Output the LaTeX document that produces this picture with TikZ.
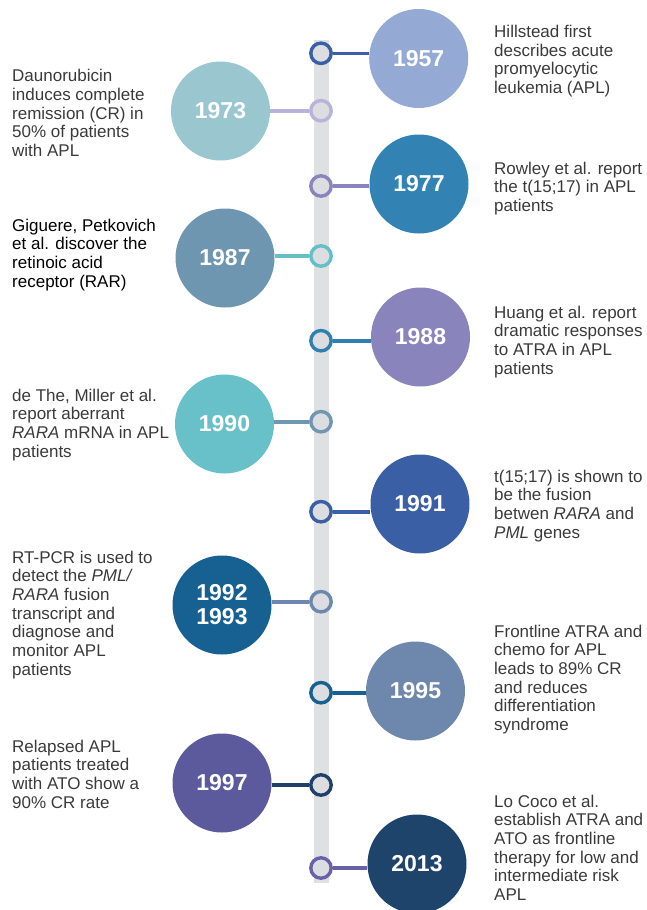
\documentclass[tikz,border=0pt]{standalone}
\usepackage{fontspec}
\setmainfont{Liberation Sans}
\definecolor{barc}{HTML}{DFE0E2}
\definecolor{ringfill}{HTML}{DCDDE0}
\definecolor{txt}{HTML}{3A3A3A}
\definecolor{cA}{HTML}{94A9D3}\definecolor{rA}{HTML}{3A5FA8}
\definecolor{cB}{HTML}{9AC6CF}\definecolor{rB}{HTML}{B9B3DA}
\definecolor{cC}{HTML}{3283B4}\definecolor{rC}{HTML}{8A83BD}
\definecolor{cD}{HTML}{6F96B0}\definecolor{rD}{HTML}{63C0C8}
\definecolor{cE}{HTML}{8984BB}\definecolor{rE}{HTML}{2F80B1}
\definecolor{cF}{HTML}{68C1C8}\definecolor{rF}{HTML}{7097B2}
\definecolor{cG}{HTML}{3B5FA5}\definecolor{rG}{HTML}{3B5FA5}
\definecolor{cH}{HTML}{166092}\definecolor{rH}{HTML}{6D88AE}
\definecolor{cI}{HTML}{6E88AD}\definecolor{rI}{HTML}{166092}
\definecolor{cJ}{HTML}{5C5A9C}\definecolor{rJ}{HTML}{1F4068}
\definecolor{cK}{HTML}{1F446C}\definecolor{rK}{HTML}{6A60AA}
\tikzset{
  year/.style={circle, minimum size=99pt, inner sep=0pt, fill=#1, text=white,
    font=\fontsize{23}{24}\selectfont\bfseries, align=center},
  ring/.style={circle, minimum size=20.4pt, inner sep=0pt, draw=#1, line width=3.4pt, fill=ringfill},
  conn/.style={draw=#1, line width=3.6pt},
  desc/.style={anchor=base west, inner sep=0pt, text=txt},
}
\newcommand{\desctext}[1]{\parbox[t]{170pt}{\fontsize{17}{18.7}\selectfont\raggedright #1}}
\begin{document}
\begin{tikzpicture}[x=1pt,y=-1pt]
\useasboundingbox (0,0) rectangle (646,910);
\clip (0,0) rectangle (646,910);
\fill[barc] (314,40) rectangle (329,883);
% rings
\node[ring=rA] (r1) at (321,53.3) {};
\node[ring=rB] (r2) at (321,110.7) {};
\node[ring=rC] (r3) at (321,186) {};
\node[ring=rD] (r4) at (321,256) {};
\node[ring=rE] (r5) at (321,340.7) {};
\node[ring=rF] (r6) at (321,421.7) {};
\node[ring=rG] (r7) at (321,511.7) {};
\node[ring=rH] (r8) at (321,601.7) {};
\node[ring=rI] (r9) at (321,692.7) {};
\node[ring=rJ] (r10) at (321,785) {};
\node[ring=rK] (r11) at (321,868) {};
% year circles
\node[year=cA] (y1) at (418.7,58.5) {1957};
\node[year=cB] (y2) at (220.5,111) {1973};
\node[year=cC] (y3) at (419,184) {1977};
\node[year=cD] (y4) at (225,258) {1987};
\node[year=cE] (y5) at (420.5,337) {1988};
\node[year=cF] (y6) at (224.5,424) {1990};
\node[year=cG] (y7) at (420,504) {1991};
\node[year=cH] (y8) at (222,605) {1992\\1993};
\node[year=cI] (y9) at (415.5,691) {1995};
\node[year=cJ] (y10) at (222,783) {1997};
\node[year=cK] (y11) at (417,864) {2013};
% connectors
\draw[conn=rA] (r1.east) -- (r1.east -| y1.west);
\draw[conn=rB] (r2.west) -- (r2.west -| y2.east);
\draw[conn=rC] (r3.east) -- (r3.east -| y3.west);
\draw[conn=rD] (r4.west) -- (r4.west -| y4.east);
\draw[conn=rE] (r5.east) -- (r5.east -| y5.west);
\draw[conn=rF] (r6.west) -- (r6.west -| y6.east);
\draw[conn=rG] (r7.east) -- (r7.east -| y7.west);
\draw[conn=rH] (r8.west) -- (r8.west -| y8.east);
\draw[conn=rI] (r9.east) -- (r9.east -| y9.west);
\draw[conn=rJ] (r10.west) -- (r10.west -| y10.east);
\draw[conn=rK] (r11.east) -- (r11.east -| y11.west);
% descriptions
\node[desc] (t1) at (494,37.5) {\desctext{Hillstead first\\describes acute\\promyelocytic\\leukemia (APL)}};
\node[desc] (t2) at (12,81.7) {\desctext{Daunorubicin\\induces complete\\remission (CR) in\\50\% of patients\\with APL}};
\node[desc] (t3) at (494,174) {\desctext{Rowley et al. report\\the t(15;17) in APL\\patients}};
\node[desc, text=black] (t4) at (12,231) {\desctext{Giguere, Petkovich\\et al. discover the\\retinoic acid\\receptor (RAR)}};
\node[desc] (t5) at (494,318) {\desctext{Huang et al. report\\dramatic responses\\to ATRA in APL\\patients}};
\node[desc] (t6) at (12,401) {\desctext{de The, Miller et al.\\report aberrant\\\textit{RARA} mRNA in APL\\patients}};
\node[desc] (t7) at (494,482) {\desctext{t(15;17) is shown to\\be the fusion\\betwen \textit{RARA} and\\\textit{PML} genes}};
\node[desc] (t8) at (12,563) {\desctext{RT-PCR is used to\\detect the \textit{PML/}\\\textit{RARA} fusion\\transcript and\\diagnose and\\monitor APL\\patients}};
\node[desc] (t9) at (494,637) {\desctext{Frontline ATRA and\\chemo for APL\\leads to 89\% CR\\and reduces\\differentiation\\syndrome}};
\node[desc] (t10) at (12,752) {\desctext{Relapsed APL\\patients treated\\with ATO show a\\90\% CR rate}};
\node[desc] (t11) at (494,807) {\desctext{Lo Coco et al.\\establish ATRA and\\ATO as frontline\\therapy for low and\\intermediate risk\\APL}};
\end{tikzpicture}
\end{document}
